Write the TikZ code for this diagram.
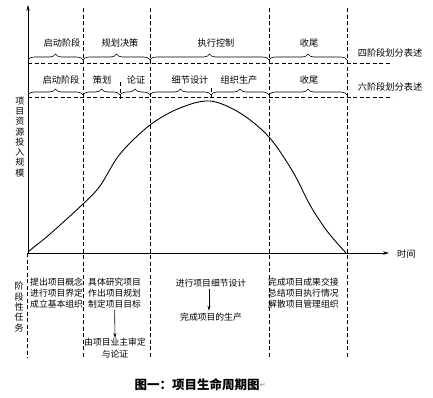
\documentclass[tikz,border=0pt]{standalone}
\usepackage{fontspec}
\newfontfamily\cjk{Noto Sans CJK SC}
\newfontfamily\symf{DejaVu Sans}
\usetikzlibrary{decorations.pathreplacing,arrows.meta}
\begin{document}
\begin{tikzpicture}[x=1pt,y=-1pt,
  lbl/.style={font=\cjk\fontsize{9.2}{11}\selectfont, inner sep=0pt},
  task/.style={font=\cjk\fontsize{8.8}{11}\selectfont, align=left, inner sep=0pt},
  vtxt/.style={font=\cjk\fontsize{9}{10.3}\selectfont, align=center, inner sep=0pt},
  dsh/.style={dash pattern=on 4pt off 2.5pt, line width=0.6pt},
  brc/.style={decorate, decoration={brace, amplitude=6pt}, line width=0.6pt},
  axis/.style={line width=0.7pt, -{Stealth[length=6pt,width=3.5pt]}},
  arr/.style={line width=0.6pt, -{Stealth[length=5pt,width=3pt]}}]
\useasboundingbox (0,0) rectangle (433,397);

% axes
\coordinate (O) at (28,253);
\coordinate (ytop) at (28,5);
\coordinate (xend) at (389,253);
\draw[axis] (O) -- (ytop);
\draw[axis] (O) -- (xend);
\node[lbl, anchor=west] (time) at (397,254) {时间};

% vertical dashed lines
\draw[dsh] (27,253) -- (27,358);
\foreach \x in {83,150,269,347} \draw[dsh] (\x,8) -- (\x,358);
\draw[dsh] (120,82) -- (120,99);
\draw[dsh] (211,88) -- (211,98);

% horizontal dashed lines
\draw[dsh] (28,63) -- (390,63);
\draw[dsh] (28,97) -- (392,97);

% four-phase braces
\draw[brc] (28,60) -- (83,60);
\draw[brc] (83,60) -- (150,60);
\draw[brc] (150,60) -- (269,60);
\draw[brc] (269,60) -- (347,60);
\node[lbl] (p41) at (62,43) {启动阶段};
\node[lbl] (p42) at (120,43) {规划决策};
\node[lbl] (p43) at (216,43) {执行控制};
\node[lbl] (p44) at (309,43) {收尾};
\node[lbl] (four) at (390,53) {四阶段划分表述};

% six-phase braces
\draw[brc] (28,95) -- (83,95);
\draw[brc] (83,95) -- (120,95);
\draw[brc] (120,95) -- (150,95);
\draw[brc] (150,95) -- (211,95);
\draw[brc] (211,95) -- (269,95);
\draw[brc] (269,95) -- (347,95);
\node[lbl] (p61) at (61,80) {启动阶段};
\node[lbl] (p62) at (102,80) {策划};
\node[lbl] (p63) at (136,80) {论证};
\node[lbl] (p64) at (190,80) {细节设计};
\node[lbl] (p65) at (239,80) {组织生产};
\node[lbl] (p66) at (309,80) {收尾};
\node[lbl] (six) at (390,87) {六阶段划分表述};

% y label
\node[vtxt] (ylab) at (20,137) {项\\目\\资\\源\\投\\入\\规\\模};

% curve
\draw[line width=0.9pt] plot[smooth, tension=0.55] coordinates {
 (28,252) (34,247) (50,234) (83,204) (100,186) (120,154) (150,125)
 (180,108) (210,101) (240,113) (269,137) (293,172) (310,205) (327,231) (346,253)};

% stage tasks
\node[vtxt] (tasklab) at (19,307) {阶\\段\\性\\任\\务};
\node[task, anchor=north west] (t1) at (30,278) {提出项目概念\\进行项目界定\\成立基本组织};
\node[task, anchor=north west] (t2) at (88,278) {具体研究项目\\作出项目规划\\制定项目目标};
\node[task, align=center, font=\cjk\fontsize{8.8}{12}\selectfont, anchor=north] (t2b) at (115,338) {由项目业主审定\\与论证};
\draw[arr] ([yshift=-1pt]t2.south) -- (t2b.north);
\node[task] (t3) at (211,283) {进行项目细节设计};
\node[task] (t3b) at (211,317) {完成项目的生产};
\draw[arr] ([xshift=-2pt,yshift=-2pt]t3.south) -- ([xshift=-2pt,yshift=2pt]t3b.north);
\node[task, anchor=north west] (t4) at (268,278) {完成项目成果交接\\总结项目执行情况\\解散项目管理组织};

% caption
\node[font=\cjk\bfseries\fontsize{12.5}{14}\selectfont, inner sep=0pt] (cap) at (197,385) {图一：项目生命周期图};
\node[font=\symf\fontsize{7}{8}\selectfont, text=gray, inner sep=0pt, anchor=west] (ret) at (cap.east) {↵};
\end{tikzpicture}
\end{document}
